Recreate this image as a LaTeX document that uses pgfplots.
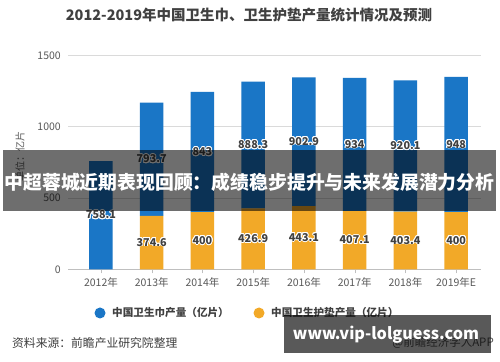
\documentclass[border=0pt]{standalone}
\usepackage{fontspec}
\setmainfont{Noto Sans CJK SC}
\usepackage{graphicx}
\usepackage{pgfplots}
\pgfplotsset{compat=1.18}
\usepackage{pgfplotstable}
\usepackage{contour}
\contourlength{0.8pt}
\definecolor{barblue}{HTML}{1A76C6}
\definecolor{baryel}{HTML}{F2A928}
\definecolor{txt}{HTML}{404040}
\definecolor{tickc}{HTML}{595959}
\definecolor{gridc}{HTML}{DADADA}
\definecolor{axisc}{HTML}{BFBFBF}

\pgfplotstableread{
x y lab
0 0 {}
1 374.6 374.6
2 400 400
3 426.9 426.9
4 443.1 443.1
5 407.1 407.1
6 403.4 403.4
7 400 400
}\pads
\pgfplotstableread{
x y lab
0 758.1 758.1
1 793.7 793.7
2 843 843
3 888.3 888.3
4 902.9 902.9
5 934 934
6 920.1 920.1
7 948 948
}\napkins

\begin{document}
\begin{tikzpicture}
\path[use as bounding box] (0,0) rectangle (500bp,362bp);
\fill[white] (0,0) rectangle (500bp,362bp);
\begin{axis}[
  at={(68.3bp,92.7bp)}, anchor=south west, scale only axis,
  width=412.2bp, height=214bp,
  ybar stacked, bar width=23.5bp,
  xmin=-0.644, xmax=7.48, ymin=0, ymax=1500,
  xtick={0,1,2,3,4,5,6,7},
  xticklabels={2012年,2013年,2014年,2015年,2016年,2017年,2018年,2019年E},
  ytick={0,500,1000,1500},
  yticklabel style={/pgf/number format/1000 sep={}},
  axis x line*=bottom, axis y line*=left,
  x axis line style={draw=axisc},
  y axis line style={draw=none},
  ytick style={draw=none},
  xtick style={draw=axisc},
  tick align=outside, major tick length=4bp,
  ymajorgrids, grid style={draw=gridc},
  /pgf/number format/assume math mode=true,
  ticklabel style={font=\fontsize{10.5bp}{12bp}\selectfont, text=tickc},
  xticklabel style={yshift=-1bp},
  nodes near coords={\contour{white}{\pgfplotspointmeta}},
  point meta=explicit symbolic,
  nodes near coords style={anchor=center, font=\fontsize{10.8bp}{12bp}\selectfont\bfseries, text=txt},
]
\addplot[fill=baryel, draw=none] table[x=x,y=y,meta=lab]{\pads};
\addplot[fill=barblue, draw=none] table[x=x,y=y,meta=lab]{\napkins};
\end{axis}
% title
\node[font=\fontsize{14.5bp}{16bp}\selectfont\bfseries, text=txt] at (249bp,347bp) {2012-2019年中国卫生巾、卫生护垫产量统计情况及预测};
% y label
\node[rotate=90, font=\fontsize{10bp}{12bp}\selectfont, text=tickc] at (20bp,205bp) {单位：亿片};
% legend
\fill[barblue] (100bp,49bp) circle (5.5bp);
\node[anchor=west, inner sep=0pt, font=\fontsize{10.6bp}{12bp}\selectfont\bfseries, text=txt] at (112bp,49bp) {中国卫生巾产量（亿片）};
\fill[baryel] (259bp,49bp) circle (5.5bp);
\node[anchor=west, inner sep=0pt, font=\fontsize{10.6bp}{12bp}\selectfont\bfseries, text=txt] at (271bp,49bp) {中国卫生护垫产量（亿片）};
% source
\node[anchor=west, inner sep=0pt, font=\fontsize{11.8bp}{13bp}\selectfont, text=txt] at (12bp,19bp) {资料来源：前瞻产业研究院整理};
\node[anchor=east, inner sep=0pt, font=\fontsize{11.5bp}{13bp}\selectfont, text=tickc] at (494bp,19bp) {@前瞻经济学人APP};
% banner overlay
\fill[black, opacity=0.57] (3bp,151bp) rectangle (496bp,212bp);
\node[text=white, inner sep=0pt] at (249.5bp,180bp) {\resizebox{490bp}{!}{\fontsize{19bp}{21bp}\selectfont\bfseries 中超蓉城近期表现回顾：成绩稳步提升与未来发展潜力分析}};
% watermark box
\fill[black, opacity=0.65] (284bp,9.3bp) rectangle (491bp,47bp);
\node[text=white, inner sep=0pt] at (386bp,27bp) {\resizebox{186bp}{!}{\fontsize{17bp}{19bp}\selectfont\bfseries www.vip-lolguess.com}};
\end{tikzpicture}
\end{document}
